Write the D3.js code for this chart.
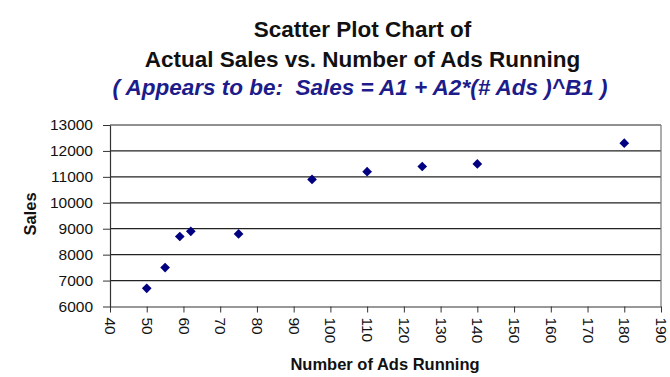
<!DOCTYPE html>
<html>
<head>
<meta charset="utf-8">
<script src="https://cdn.jsdelivr.net/npm/d3@7"></script>
<style>
  html, body { margin: 0; padding: 0; background: #ffffff; }
  svg { display: block; font-family: Arial, "Liberation Sans", sans-serif; }
</style>
</head>
<body>
<svg id="chart" width="670" height="377"></svg>
<script>
// Number of ads running and the matching sales figures
const adsRunning = [50, 55, 59, 62, 75, 95, 110, 125, 140, 180];
const salesValues = [6700, 7500, 8700, 8900, 8800, 10900, 11200, 11400, 11500, 12300];
const xTicks = [40, 50, 60, 70, 80, 90, 100, 110, 120, 130, 140, 150, 160, 170, 180, 190];
const yTicks = [6000, 7000, 8000, 9000, 10000, 11000, 12000, 13000];
const titleLines = ["Scatter Plot Chart of", "Actual Sales vs. Number of Ads Running"];
const subtitle = "( Appears to be:  Sales = A1 + A2*(# Ads )^B1 )";

const svg = d3.select("#chart");
const plot = { left: 110, right: 661, top: 125, bottom: 306.5 };
const font = "Arial, 'Liberation Sans', sans-serif";

const x = d3.scaleLinear().domain([40, 190]).range([plot.left, plot.right]);
const y = d3.scaleLinear().domain([6000, 13000]).range([plot.bottom, plot.top]);

// Titles
svg.selectAll("text.title").data(titleLines).enter().append("text")
  .attr("class", "title")
  .attr("x", 362.5).attr("y", (d, i) => 36.5 + i * 30)
  .attr("text-anchor", "middle")
  .attr("font-size", 22.5).attr("font-weight", "bold").attr("fill", "#111")
  .text(d => d);

svg.append("text")
  .attr("x", 360).attr("y", 95)
  .attr("text-anchor", "middle")
  .style("white-space", "pre")
  .attr("font-size", 22.5).attr("font-weight", "bold").attr("font-style", "italic")
  .attr("fill", "#1c1c8a")
  .text(subtitle);

// Horizontal gridlines
svg.append("g").selectAll("line").data(yTicks.filter(t => t !== 6000)).enter().append("line")
  .attr("x1", plot.left).attr("x2", plot.right)
  .attr("y1", d => y(d)).attr("y2", d => y(d))
  .attr("stroke", "#222").attr("stroke-width", 1.2);

// Plot frame on the right side
svg.append("line")
  .attr("x1", plot.right).attr("x2", plot.right)
  .attr("y1", plot.top).attr("y2", plot.bottom)
  .attr("stroke", "#777").attr("stroke-width", 1.2);

// Y axis
const yAxis = svg.append("g")
  .attr("transform", `translate(${plot.left},0)`)
  .call(d3.axisLeft(y).tickValues(yTicks).tickFormat(d3.format("d"))
    .tickSize(7).tickSizeOuter(0).tickPadding(10));
yAxis.select(".domain").attr("stroke", "#333").attr("stroke-width", 1.2);
yAxis.selectAll(".tick line").attr("stroke", "#333");
yAxis.selectAll("text").attr("font-size", 15.5).attr("fill", "#111").attr("font-family", font);

// X axis with labels turned to read downward
const xAxis = svg.append("g")
  .attr("transform", `translate(0,${plot.bottom})`)
  .call(d3.axisBottom(x).tickValues(xTicks).tickFormat(d3.format("d"))
    .tickSize(6).tickSizeOuter(0));
xAxis.select(".domain").attr("stroke", "#333").attr("stroke-width", 1.2);
xAxis.selectAll(".tick line").attr("stroke", "#333");
xAxis.selectAll("text")
  .attr("font-size", 15.5).attr("fill", "#111").attr("font-family", font)
  .attr("transform", "rotate(90)")
  .attr("x", 11).attr("y", 0).attr("dy", "0.35em")
  .attr("text-anchor", "start");

// Axis titles
svg.append("text")
  .attr("transform", "translate(36,214) rotate(-90)")
  .attr("text-anchor", "middle")
  .attr("font-size", 16.5).attr("font-weight", "bold").attr("fill", "#111")
  .text("Sales");

svg.append("text")
  .attr("x", 385).attr("y", 370)
  .attr("text-anchor", "middle")
  .attr("font-size", 16.5).attr("font-weight", "bold").attr("fill", "#111")
  .text("Number of Ads Running");

// Diamond markers
const diamond = d3.symbol().type(d3.symbolDiamond2).size(60);
svg.append("g").selectAll("path").data(adsRunning).enter().append("path")
  .attr("d", diamond)
  .attr("transform", (d, i) => `translate(${x(d)},${y(salesValues[i])})`)
  .attr("fill", "#000080");
</script>
</body>
</html>
